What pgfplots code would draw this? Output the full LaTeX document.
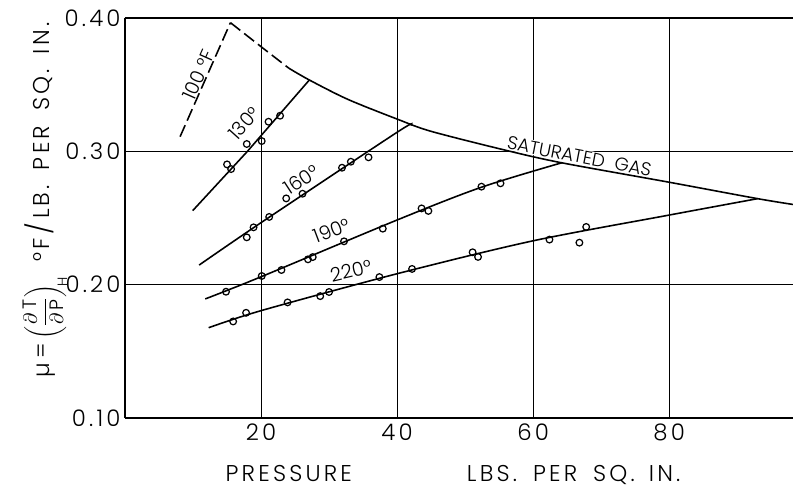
\documentclass[border=0pt]{standalone}
\usepackage{pgfplots}
\pgfplotsset{compat=1.18}
\usepackage{fontspec}
\IfFontExistsTF{Poppins Light}{%
  \setmainfont{Poppins Light}[LetterSpace=14]%
  \newfontfamily\plainfont{Poppins Light}}{%
  \setmainfont{Poppins}[LetterSpace=14]%
  \newfontfamily\plainfont{Poppins}}
\begin{document}
\begin{tikzpicture}
\begin{axis}[
  scale only axis, width=13.36cm, height=8cm,
  xmin=0, xmax=98.2, ymin=0.1, ymax=0.4,
  axis x line=box, axis y line=left,
  axis line style={-, line width=1.1pt},
  xtick={20,40,60,80}, ytick={0.1,0.2,0.3,0.4},
  yticklabel style={/pgf/number format/fixed,/pgf/number format/fixed zerofill,/pgf/number format/precision=2, xshift=1pt},
  /pgf/number format/assume math mode=true,
  major tick length=0pt,
  grid=major, major grid style={black, line width=0.6pt},
  tick label style={font=\fontsize{13}{15}\selectfont},
  xlabel={PRESSURE\hspace{2.3cm}LBS.\hspace{0.32cm}PER\hspace{0.32cm}SQ.\hspace{0.28cm}IN.},
  ylabel={µ\,=\,{\fontsize{11}{13}\selectfont$\displaystyle\left(\frac{\partial\,\mathrm{T}}{\partial\,\mathrm{P}}\right)_{\!\mathrm{H}}$}\hspace{0.3cm}°F\,{\fontsize{15}{15}\selectfont /}\,LB.\hspace{0.3cm}PER\hspace{0.3cm}SQ.\hspace{0.3cm}IN.},
  every axis x label/.style={at={(axis description cs:0.491,-0.1600)}, anchor=base, font=\fontsize{13}{15}\selectfont},
  every axis y label/.style={at={(axis description cs:-0.1123,0.545)}, anchor=base, rotate=90, font=\fontsize{13}{15}\selectfont},
]
% 100 F isotherm (dashed)
\addplot[black, line width=0.9pt, dash pattern=on 0.25cm off 0.1cm] coordinates {(8.1,0.311)(15.5,0.3965)};
\addplot[black, line width=0.9pt, dash pattern=on 0.25cm off 0.1cm, smooth] coordinates {(15.5,0.3965)(20,0.3785)(24.1,0.3623)};
% label for saturated gas (white fill breaks gridline)
\node[rotate=-11, fill=white, inner sep=0.5pt, font=\plainfont\fontsize{10.5}{12}\selectfont] at (axis cs:66.8,0.2961) {SATURATED\ \ GAS};
% saturated gas curve
\addplot[black, line width=0.9pt, smooth] coordinates {(24.1,0.3623)(27.1,0.3535)(32.75,0.3390)(40.1,0.3240)(45,0.3150)(55.8,0.3010)(64.1,0.2915)(79.8,0.2770)(93,0.2645)(98.4,0.2600)};
% isotherms
\addplot[black, line width=0.9pt] coordinates {(9.95,0.2555)(18.0,0.3000)(27.1,0.3535)};
\addplot[black, line width=0.9pt, smooth] coordinates {(10.9,0.2147)(20,0.2465)(40,0.3143)(42.0,0.3195)};
\addplot[black, line width=0.9pt, smooth] coordinates {(11.8,0.1893)(20,0.2059)(40,0.2485)(52.35,0.2730)(64.2,0.2914)};
\addplot[black, line width=0.9pt, smooth] coordinates {(12.3,0.1677)(20,0.1805)(40,0.2082)(60,0.2329)(80,0.2522)(93,0.2645)};
% data points
\addplot[only marks, mark=o, mark size=1.9pt, black, mark options={line width=0.7pt}] coordinates {
(15.0,0.2902)(15.6,0.2867)(17.9,0.3055)(20.1,0.3077)(21.1,0.3222)(22.8,0.3267)};
\addplot[only marks, mark=o, mark size=1.9pt, black, mark options={line width=0.7pt}] coordinates {
(17.9,0.2355)(18.9,0.2430)(21.2,0.2508)(23.7,0.2647)(26.1,0.2682)(31.9,0.2877)(33.2,0.2922)(35.8,0.2955)};
\addplot[only marks, mark=o, mark size=1.9pt, black, mark options={line width=0.7pt}] coordinates {
(14.85,0.1947)(20.1,0.2065)(23.0,0.2110)(26.9,0.2190)(27.6,0.2207)(32.2,0.2325)(37.9,0.2420)(43.6,0.2572)(44.6,0.2553)(52.4,0.2735)(55.2,0.2760)};
\addplot[only marks, mark=o, mark size=1.9pt, black, mark options={line width=0.7pt}] coordinates {
(15.9,0.1724)(17.8,0.1789)(23.9,0.1867)(28.7,0.1914)(30.0,0.1945)(37.4,0.2057)(42.2,0.2118)(51.1,0.2243)(51.9,0.2208)(62.4,0.2338)(66.8,0.2315)(67.8,0.2433)};
% isotherm labels
\node[rotate=66, anchor=south, inner sep=0.5pt, font=\plainfont\fontsize{11}{12}\selectfont] at (axis cs:11.9,0.355) {100 °F};
\node[rotate=48, font=\plainfont\fontsize{11}{12}\selectfont] at (axis cs:17.5,0.321) {130°};
\node[rotate=33, font=\plainfont\fontsize{11}{12}\selectfont] at (axis cs:25.9,0.2787) {160°};
\node[rotate=20.7, font=\plainfont\fontsize{11}{12}\selectfont] at (axis cs:30.4,0.2405) {190°};
\node[rotate=13.2, font=\plainfont\fontsize{11}{12}\selectfont] at (axis cs:33.2,0.2105) {220°};
\end{axis}
\pgfresetboundingbox
\path (current axis.south west) ++(-2.5cm,-1.4cm) rectangle ([yshift=0.36cm]current axis.north east);
\end{tikzpicture}
\end{document}
